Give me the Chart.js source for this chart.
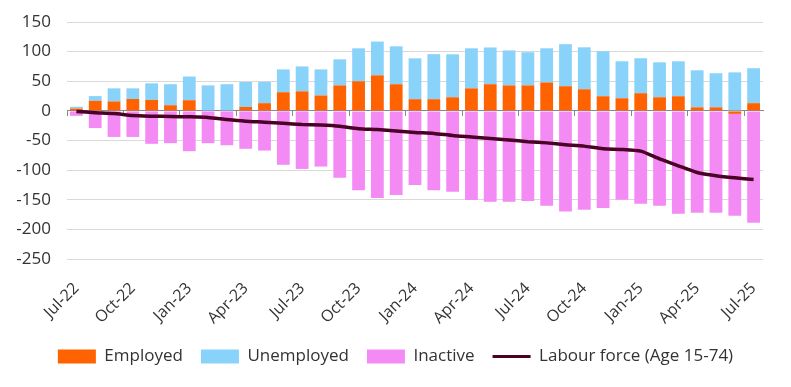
<!DOCTYPE html>
<html>
<head>
<meta charset="utf-8">
<script src="https://cdn.jsdelivr.net/npm/chart.js@4.4.1/dist/chart.umd.min.js"></script>
<style>
  html, body { margin: 0; padding: 0; background: #ffffff; }
  #wrap { width: 791px; height: 387px; }
</style>
</head>
<body>
<div id="wrap"><canvas id="c" width="791" height="387"></canvas></div>
<script>
const months = ["Jul-22","Aug-22","Sep-22","Oct-22","Nov-22","Dec-22","Jan-23","Feb-23","Mar-23","Apr-23","May-23","Jun-23",
  "Jul-23","Aug-23","Sep-23","Oct-23","Nov-23","Dec-23","Jan-24","Feb-24","Mar-24","Apr-24","May-24","Jun-24",
  "Jul-24","Aug-24","Sep-24","Oct-24","Nov-24","Dec-24","Jan-25","Feb-25","Mar-25","Apr-25","May-25","Jun-25","Jul-25"];

const employed = [4, 17, 16, 20, 18.5, 9.5, 18, 0, 0, 6.7, 13, 31.5,
  33, 26, 43, 50, 60, 45, 19.7, 19.7, 23, 38, 45, 43,
  43, 48, 41.6, 36.5, 24.7, 21.3, 29.8, 23, 24.7, 6, 6, -5, 13];

const unemployed = [3, 8, 22, 18, 28, 35.5, 40, 43, 45, 42, 36, 38.5,
  42, 44, 44, 55.6, 57, 64, 69, 76, 72.5, 67.6, 62, 59,
  56, 57.6, 71, 70.8, 76, 62.4, 59, 59, 59, 62.5, 57.5, 65, 59];

const inactive = [-8.4, -29, -44, -44, -55.6, -54.5, -68, -54.5, -58, -64, -67, -91,
  -98, -94, -113, -134, -147, -142, -125, -134, -136.5, -150.6, -153.4, -153.4,
  -152, -160, -170, -167, -164, -150, -156.7, -160, -173.6, -172, -172, -172, -189];

const labourForce = [-1, -3, -4.5, -8, -9, -9.5, -10, -11, -14.6, -17.4, -19, -21,
  -23, -24, -26, -30, -31.5, -34, -36.5, -38, -41.6, -44, -46.6, -49,
  -52, -54, -57, -59.5, -64, -65, -68, -81, -92.7, -104, -109.5, -113, -115.7];

const yTicks = [150, 100, 50, 0, -50, -100, -150, -200, -250];

const FONT = "'Open Sans', 'DejaVu Sans', sans-serif";
const TEXT = '#333333';

const legendHeightFix = {
  id: 'legendHeightFix',
  afterInit(chart) {
    const lg = chart.legend;
    if (!lg) return;
    const orig = lg.fit;
    lg.fit = function () { orig.call(this); this.height = 57; };
  }
};

new Chart(document.getElementById('c'), {
  plugins: [legendHeightFix],
  data: {
    labels: months,
    datasets: [
      { type: 'bar', label: 'Employed', data: employed, backgroundColor: '#ff6200', stack: 's', order: 1,
        categoryPercentage: 1, barPercentage: 0.68 },
      { type: 'bar', label: 'Unemployed', data: unemployed, backgroundColor: '#89d3fb', stack: 's', order: 1,
        categoryPercentage: 1, barPercentage: 0.68 },
      { type: 'bar', label: 'Inactive', data: inactive, backgroundColor: '#f48bf5', stack: 's', order: 1,
        categoryPercentage: 1, barPercentage: 0.68 },
      { type: 'line', label: 'Labour force (Age 15-74)', data: labourForce, borderColor: '#4b0026',
        backgroundColor: '#4b0026', borderWidth: 3.5, pointRadius: 0, tension: 0.2, order: 0, fill: false }
    ]
  },
  options: {
    responsive: false,
    devicePixelRatio: 1,
    animation: false,
    layout: { padding: { top: 22, right: 0, left: 0, bottom: 0 } },
    plugins: {
      tooltip: { enabled: false },
      legend: {
        position: 'bottom',
        labels: {
          font: { family: FONT, size: 17 },
          color: TEXT,
          usePointStyle: true,
          pointStyleWidth: 38,
          boxHeight: 14,
          padding: 18,
          sort: (a, b) => a.datasetIndex - b.datasetIndex,
          generateLabels: (chart) => {
            const items = Chart.defaults.plugins.legend.labels.generateLabels(chart);
            items.forEach(it => {
              const ds = chart.data.datasets[it.datasetIndex];
              if (ds.type === 'line') {
                it.pointStyle = 'line';
                it.lineWidth = 3;
                it.strokeStyle = ds.borderColor;
              } else {
                it.pointStyle = 'rect';
                it.lineWidth = 0;
                it.fillStyle = ds.backgroundColor;
                it.strokeStyle = ds.backgroundColor;
              }
            });
            return items;
          }
        }
      }
    },
    scales: {
      x: {
        type: 'category',
        stacked: true,
        offset: true,
        grid: { display: false, drawTicks: false },
        border: { display: false },
        afterFit: (s) => { s.height = 71; },
        ticks: {
          autoSkip: false,
          minRotation: 45,
          maxRotation: 45,
          padding: 20,
          font: { family: FONT, size: 16 },
          color: TEXT,
          callback: function (v, i) { return i % 3 === 0 ? months[i] : ''; }
        }
      },
      xz: {
        type: 'category',
        position: { y: 0 },
        offset: true,
        z: 1,
        grid: {
          display: true,
          offset: true,
          drawOnChartArea: false,
          drawTicks: true,
          tickLength: 5,
          tickWidth: 1,
          tickColor: (ctx) => (ctx.index % 3 === 0 && ctx.index < months.length) ? '#8a8a8a' : 'rgba(0,0,0,0)',
          color: 'rgba(0,0,0,0)'
        },
        border: { display: true, color: '#8a8a8a', width: 1 },
        ticks: { display: false, autoSkip: false },
        afterFit: (s) => { s.height = 0; }
      },
      y: {
        stacked: true,
        min: -250,
        max: 150,
        afterFit: (s) => { s.width = 67; s.paddingTop = 0; s.paddingBottom = 0; },
        afterBuildTicks: (s) => { s.ticks = yTicks.map(v => ({ value: v })); },
        grid: { color: '#d9d9d9', lineWidth: 1, drawTicks: false },
        border: { display: false },
        ticks: {
          padding: 16,
          font: { family: FONT, size: 17 },
          color: TEXT
        }
      },
      yr: {
        type: 'linear',
        position: 'right',
        display: true,
        grid: { display: false, drawTicks: false },
        border: { display: false },
        ticks: { display: false },
        afterFit: (s) => { s.width = 28; s.paddingTop = 0; s.paddingBottom = 0; }
      }
    }
  }
});
</script>
</body>
</html>
